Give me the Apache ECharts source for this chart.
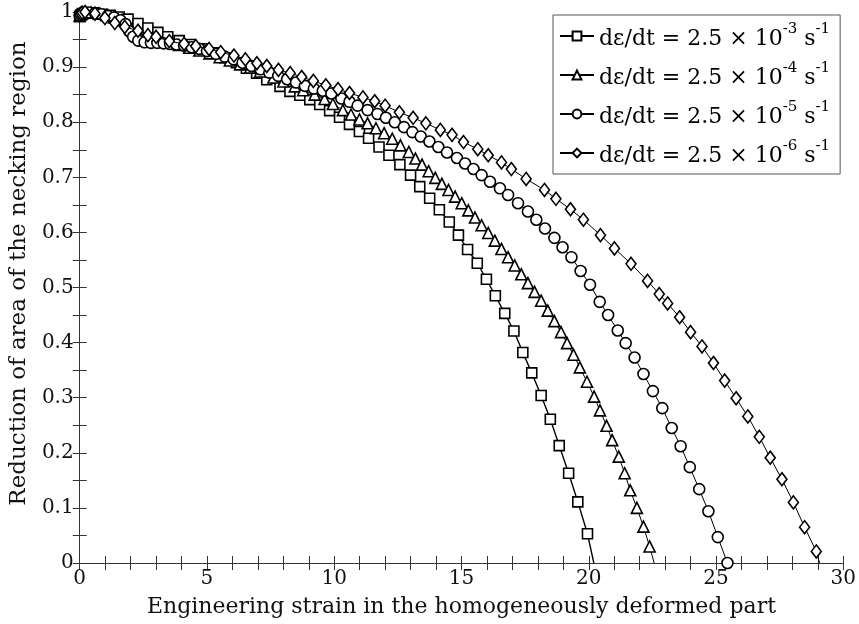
<!DOCTYPE html>
<html>
<head>
<meta charset="utf-8">
<script src="https://cdn.jsdelivr.net/npm/echarts@6/dist/echarts.min.js"></script>
<style>html,body{margin:0;padding:0;background:#fff}#c{width:859px;height:624px}</style>
</head>
<body>
<div id="c"></div>
<script>
// ---- data ----
const seriesNames = ['-3', '-4', '-5', '-6'];
const xTicks = [0, 5, 10, 15, 20, 25, 30];
const yTicks = [0, 0.1, 0.2, 0.3, 0.4, 0.5, 0.6, 0.7, 0.8, 0.9, 1];

const rate3 = [[0,0.992],[0.05,0.995],[0.1,0.997],[0.2,0.998],[0.35,0.998],[0.6,0.998],[0.9,0.996],[1.2,0.994],[1.55,0.991],[1.9,0.987],[2.29,0.979],[2.68,0.971],[3.07,0.963],[3.46,0.955],[3.91,0.948],[4.35,0.941],[4.8,0.933],[5.25,0.926],[5.7,0.917],[6.15,0.908],[6.55,0.898],[6.95,0.889],[7.35,0.877],[7.87,0.865],[8.26,0.856],[8.65,0.849],[9.04,0.841],[9.43,0.832],[9.82,0.821],[10.21,0.809],[10.6,0.796],[10.99,0.783],[11.35,0.771],[11.76,0.755],[12.15,0.740],[12.58,0.723],[13.0,0.704],[13.36,0.683],[13.75,0.662],[14.13,0.641],[14.52,0.619],[14.88,0.595],[15.24,0.569],[15.62,0.544],[15.98,0.515],[16.33,0.485],[16.70,0.453],[17.06,0.421],[17.41,0.382],[17.76,0.345],[18.13,0.304],[18.49,0.261],[18.84,0.213],[19.21,0.163],[19.57,0.111],[19.95,0.053],[20.2,0]];

const rate4 = [[0,0.993],[0.05,0.996],[0.1,0.998],[0.2,0.999],[0.45,0.999],[0.75,0.997],[1.05,0.994],[1.35,0.990],[1.65,0.985],[1.95,0.975],[2.3,0.962],[2.7,0.955],[3.1,0.950],[3.5,0.945],[3.9,0.940],[4.3,0.935],[4.7,0.930],[5.1,0.925],[5.5,0.918],[5.9,0.912],[6.3,0.905],[6.7,0.899],[7.09,0.892],[7.61,0.881],[8.0,0.874],[8.45,0.865],[8.78,0.858],[9.23,0.850],[9.62,0.842],[9.95,0.833],[10.34,0.822],[10.66,0.814],[10.99,0.805],[11.31,0.798],[11.64,0.789],[11.96,0.780],[12.28,0.770],[12.6,0.758],[12.93,0.746],[13.19,0.734],[13.45,0.723],[13.71,0.711],[13.97,0.699],[14.23,0.688],[14.49,0.677],[14.75,0.665],[15.01,0.653],[15.27,0.640],[15.53,0.627],[15.79,0.613],[16.05,0.599],[16.31,0.585],[16.57,0.570],[16.83,0.555],[17.09,0.540],[17.35,0.524],[17.61,0.508],[17.87,0.492],[18.13,0.476],[18.39,0.458],[18.65,0.439],[18.91,0.419],[19.15,0.399],[19.4,0.378],[19.65,0.355],[19.93,0.329],[20.21,0.302],[20.44,0.277],[20.70,0.249],[20.92,0.223],[21.18,0.193],[21.41,0.163],[21.63,0.132],[21.89,0.100],[22.15,0.066],[22.39,0.030],[22.57,0]];

const rate5 = [[0,0.993],[0.05,0.996],[0.1,0.998],[0.2,0.999],[0.35,0.999],[0.6,0.998],[0.85,0.996],[1.1,0.993],[1.35,0.990],[1.6,0.985],[1.8,0.978],[1.95,0.965],[2.1,0.955],[2.3,0.948],[2.55,0.945],[2.8,0.944],[3.05,0.944],[3.3,0.943],[3.55,0.942],[3.8,0.941],[4.1,0.939],[4.4,0.936],[4.7,0.933],[5.0,0.929],[5.35,0.924],[5.7,0.919],[6.05,0.914],[6.4,0.908],[6.75,0.902],[7.1,0.896],[7.45,0.890],[7.8,0.884],[8.15,0.878],[8.5,0.872],[8.85,0.866],[9.2,0.861],[9.55,0.857],[9.89,0.852],[10.28,0.843],[10.6,0.837],[10.92,0.830],[11.31,0.822],[11.70,0.815],[12.03,0.808],[12.38,0.800],[12.74,0.791],[13.07,0.782],[13.4,0.774],[13.74,0.765],[14.09,0.755],[14.43,0.745],[14.82,0.735],[15.14,0.725],[15.47,0.715],[15.79,0.704],[16.12,0.692],[16.51,0.680],[16.83,0.668],[17.22,0.653],[17.61,0.638],[17.94,0.623],[18.28,0.607],[18.65,0.590],[18.97,0.573],[19.32,0.555],[19.68,0.530],[20.05,0.505],[20.43,0.474],[20.76,0.450],[21.14,0.422],[21.45,0.399],[21.80,0.373],[22.15,0.343],[22.52,0.312],[22.89,0.281],[23.26,0.245],[23.61,0.212],[23.97,0.174],[24.34,0.134],[24.70,0.094],[25.07,0.047],[25.45,0]];

const rate6 = [[0,0.995],[0.05,0.997],[0.1,0.999],[0.21,1.0],[0.6,0.997],[0.99,0.989],[1.38,0.980],[1.77,0.973],[2.29,0.966],[2.68,0.958],[3.0,0.955],[3.52,0.947],[4.1,0.942],[4.56,0.938],[5.08,0.933],[5.54,0.927],[6.06,0.921],[6.51,0.914],[6.96,0.907],[7.35,0.902],[7.81,0.895],[8.27,0.889],[8.72,0.882],[9.18,0.875],[9.67,0.867],[10.15,0.860],[10.6,0.853],[11.13,0.845],[11.59,0.838],[12.0,0.830],[12.56,0.818],[13.1,0.808],[13.6,0.798],[14.17,0.786],[14.63,0.777],[15.08,0.764],[15.64,0.751],[16.05,0.740],[16.57,0.727],[16.96,0.715],[17.54,0.697],[18.26,0.677],[18.71,0.661],[19.28,0.642],[19.79,0.623],[20.46,0.595],[21.01,0.571],[21.66,0.543],[22.31,0.512],[22.77,0.488],[23.10,0.471],[23.57,0.446],[24.0,0.419],[24.45,0.393],[24.9,0.363],[25.34,0.331],[25.79,0.299],[26.25,0.266],[26.70,0.229],[27.13,0.191],[27.59,0.152],[28.04,0.110],[28.48,0.065],[28.94,0.021],[29.07,0]];

const symbols = ['rect', 'triangle', 'circle', 'diamond'];
const symbolSizes = [10, 11, 11, [10, 13]];
const dataSets = [rate3, rate4, rate5, rate6];
const noEndMarker = [true, true, false, true];

// ---- chart ----
const FONT = 'DejaVu Serif';
const axisColor = '#333';
const chart = echarts.init(document.getElementById('c'), null, {renderer: 'canvas'});

function fmtY(v) {
  const r = Math.round(v * 100);
  if (r % 10 !== 0) return '';
  return String(r / 100);
}
function fmtX(v) {
  const r = Math.round(v);
  return (r % 5 === 0) ? String(r) : '';
}

const series = dataSets.map((d, i) => ({
  name: seriesNames[i],
  type: 'line',
  xAxisIndex: 0,
  yAxisIndex: 0,
  symbol: symbols[i],
  symbolSize: symbolSizes[i],
  showAllSymbol: true,
  animation: false,
  clip: true,
  data: d.map((p, k) => (noEndMarker[i] && k === d.length - 1) ? {value: p, symbol: 'none'} : p),
  lineStyle: {color: '#000', width: i === 0 ? 1.4 : 1},
  itemStyle: {color: '#fff', borderColor: '#000', borderWidth: 1.6},
  emphasis: {disabled: true},
  z: 2 + i
}));

const option = {
  backgroundColor: '#fff',
  animation: false,
  grid: {left: 78, right: 12, top: 12, bottom: 61, containLabel: false},
  legend: {
    data: seriesNames,
    orient: 'vertical',
    left: 553,
    top: 15,
    padding: [7, 10, 7, 6],
    itemGap: 11,
    itemWidth: 34,
    itemHeight: 11,
    backgroundColor: '#fff',
    borderColor: '#555',
    borderWidth: 1,
    borderRadius: 0,
    formatter: function (name) {
      return '{b|dε/dt = 2.5 × 10}{s|' + name + '}{b| s}{s|-1}';
    },
    textStyle: {
      fontFamily: FONT,
      color: '#000',
      rich: {
        b: {fontFamily: FONT, fontSize: 22, color: '#000', verticalAlign: 'bottom', lineHeight: 28},
        s: {fontFamily: FONT, fontSize: 15, color: '#000', verticalAlign: 'top', lineHeight: 28, padding: [0, 0, 9, 0]}
      }
    },
    selectedMode: false
  },
  xAxis: [{
    type: 'value', min: 0, max: 30, interval: 1,
    name: 'Engineering strain in the homogeneously deformed part',
    nameLocation: 'middle', nameGap: 33,
    nameTextStyle: {fontFamily: FONT, fontSize: 22, color: '#111'},
    axisLine: {show: true, lineStyle: {color: axisColor, width: 1}},
    axisTick: {show: true, inside: true, length: 7, lineStyle: {color: axisColor}},
    axisLabel: {formatter: fmtX, fontFamily: FONT, fontSize: 20, color: '#111', margin: 6, showMinLabel: true, showMaxLabel: true},
    splitLine: {show: false}
  }, {
    type: 'value', min: 0, max: 30, interval: 1, position: 'top',
    axisLine: {show: true, lineStyle: {color: axisColor, width: 1}},
    axisTick: {show: true, inside: true, length: 7, lineStyle: {color: axisColor}},
    axisLabel: {show: false},
    splitLine: {show: false}
  }],
  yAxis: [{
    type: 'value', min: 0, max: 1, interval: 0.05,
    name: 'Reduction of area of the necking region',
    nameLocation: 'middle', nameGap: 46, nameRotate: 90,
    nameTextStyle: {fontFamily: FONT, fontSize: 23, color: '#111', padding: [0, 0, 0, 28]},
    axisLine: {show: true, lineStyle: {color: axisColor, width: 1}},
    axisTick: {show: true, inside: true, length: 7, lineStyle: {color: axisColor}},
    axisLabel: {formatter: fmtY, fontFamily: FONT, fontSize: 20, color: '#111', margin: 6, showMinLabel: true, showMaxLabel: true},
    splitLine: {show: false}
  }, {
    type: 'value', min: 0, max: 1, interval: 0.05, position: 'right',
    axisLine: {show: true, lineStyle: {color: axisColor, width: 1}},
    axisTick: {show: true, inside: true, length: 7, lineStyle: {color: axisColor}},
    axisLabel: {show: false},
    splitLine: {show: false}
  }],
  series: series
};
chart.setOption(option);
</script>
</body>
</html>
